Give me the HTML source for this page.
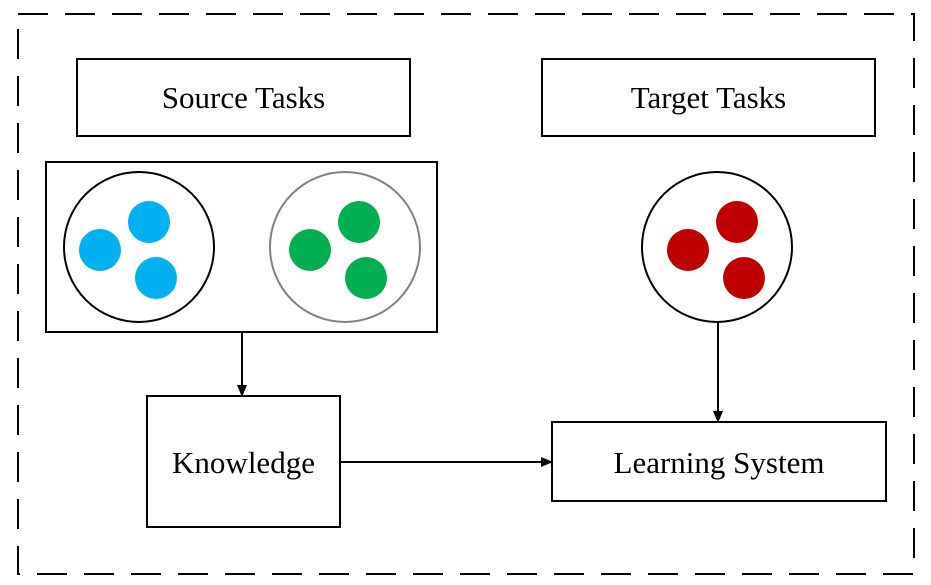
<!DOCTYPE html>
<html><head><meta charset="utf-8"><style>
html,body{margin:0;padding:0;background:#fff;}
svg{display:block;}
text{font-family:"Liberation Serif",serif;font-size:31px;fill:#000;}
</style></head><body>
<svg width="931" height="585" viewBox="0 0 931 585" xmlns="http://www.w3.org/2000/svg">
<defs><marker id="a" markerWidth="12" markerHeight="12" refX="11" refY="6" orient="auto" markerUnits="userSpaceOnUse"><path d="M0,1 L12,6 L0,11 Z" fill="#000"/></marker></defs>
<rect x="18" y="14" width="896" height="560" fill="none" stroke="#000" stroke-width="2" stroke-dasharray="30,17"/>
<rect x="77" y="59" width="333" height="77" fill="none" stroke="#000" stroke-width="2"/>
<text x="243.5" y="108" text-anchor="middle">Source Tasks</text>
<rect x="542" y="59" width="333" height="77" fill="none" stroke="#000" stroke-width="2"/>
<text x="708.5" y="108" text-anchor="middle">Target Tasks</text>
<rect x="46" y="162" width="391" height="170" fill="none" stroke="#000" stroke-width="2"/>
<circle cx="139" cy="247" r="75" fill="none" stroke="#000" stroke-width="2"/>
<circle cx="345" cy="247" r="75" fill="none" stroke="#808080" stroke-width="2"/>
<circle cx="100" cy="250" r="21" fill="#00B0F0"/>
<circle cx="149" cy="222" r="21" fill="#00B0F0"/>
<circle cx="156" cy="278" r="21" fill="#00B0F0"/>
<circle cx="310" cy="250" r="21" fill="#00B050"/>
<circle cx="359" cy="222" r="21" fill="#00B050"/>
<circle cx="366" cy="278" r="21" fill="#00B050"/>
<circle cx="717" cy="247" r="75" fill="none" stroke="#000" stroke-width="2"/>
<circle cx="688" cy="250" r="21" fill="#C00000"/>
<circle cx="737" cy="222" r="21" fill="#C00000"/>
<circle cx="744" cy="278" r="21" fill="#C00000"/>
<line x1="242" y1="333" x2="242" y2="396" stroke="#000" stroke-width="2" marker-end="url(#a)"/>
<rect x="147" y="396" width="193" height="131" fill="none" stroke="#000" stroke-width="2"/>
<text x="243.5" y="473" text-anchor="middle">Knowledge</text>
<line x1="340" y1="462" x2="552" y2="462" stroke="#000" stroke-width="2" marker-end="url(#a)"/>
<line x1="718" y1="322" x2="718" y2="422" stroke="#000" stroke-width="2" marker-end="url(#a)"/>
<rect x="552" y="422" width="334" height="79" fill="none" stroke="#000" stroke-width="2"/>
<text x="719" y="473" text-anchor="middle">Learning System</text>
</svg>
</body></html>
